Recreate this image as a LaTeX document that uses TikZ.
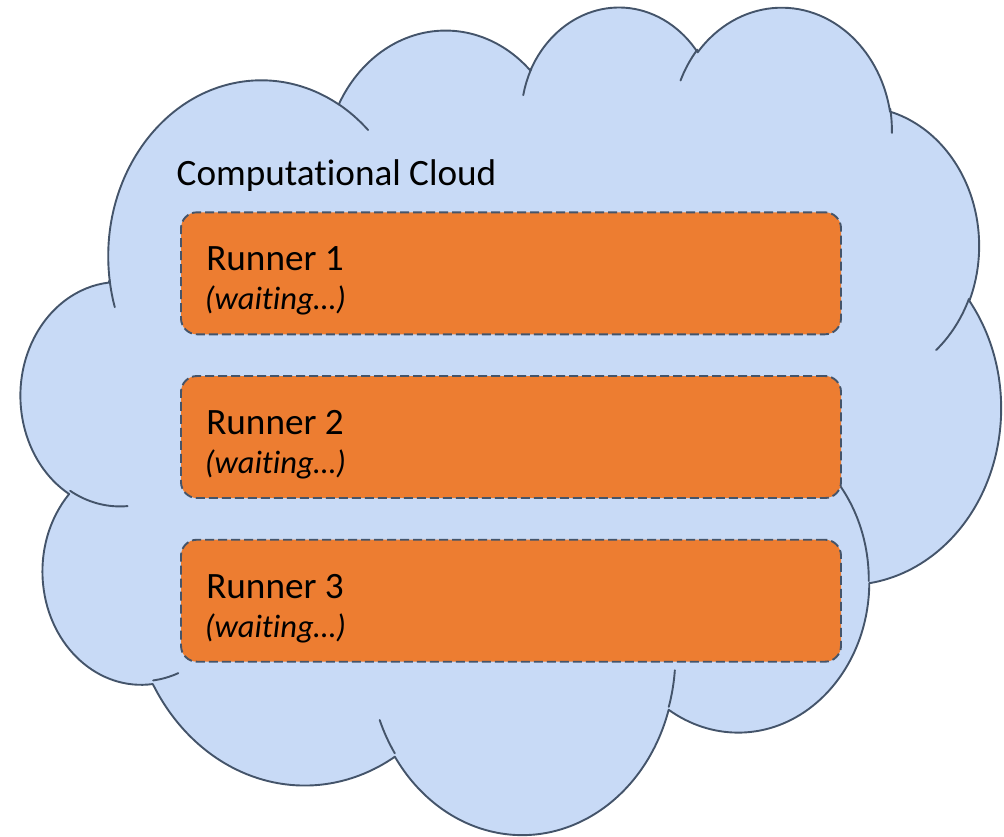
\documentclass[tikz,border=0pt]{standalone}
\usepackage{fontspec}
\setmainfont{Carlito}[Ligatures=NoCommon]
\definecolor{skyfill}{HTML}{C8DAF6}
\definecolor{slate}{HTML}{44546A}
\definecolor{runnerorange}{HTML}{ED7D31}

% One lobe of the cloud outline: style name, x radius, y radius,
% start angle and sweep, the angles measured as rays from the centre.
\newcommand\cloudlobe[5]{%
  \pgfmathsetmacro\lobeS{atan2(#2*sin(#4),#3*cos(#4))}%
  \pgfmathsetmacro\lobeE{atan2(#2*sin(#4+#5),#3*cos(#4+#5))}%
  \pgfmathsetmacro\lobeD{Mod(\lobeE-\lobeS,360)}%
  \edef\lobeTmp{\noexpand\tikzset{#1/.style={x radius=#2,y radius=#3,start angle=\lobeS,delta angle=\lobeD}}}%
  \lobeTmp}

% outer outline
\cloudlobe{lobeA}{6753}{9190}{-190.487}{123.781}
\cloudlobe{lobeB}{5333}{7267}{-144.102}{89.945}
\cloudlobe{lobeC}{4365}{5945}{-145.808}{99.723}
\cloudlobe{lobeD}{4857}{6595}{-130.986}{117.242}
\cloudlobe{lobeE}{5333}{7273}{-78.709}{109.027}
\cloudlobe{lobeF}{6775}{9220}{-46.267}{130.269}
\cloudlobe{lobeG}{5785}{7867}{0.625}{114.033}
\cloudlobe{lobeH}{6752}{9215}{22.452}{115.173}
\cloudlobe{lobeI}{7720}{10543}{66.243}{75.711}
\cloudlobe{lobeJ}{4360}{5918}{-274.942}{146.736}
\cloudlobe{lobeK}{4345}{5945}{-246.829}{152.519}
% inner seams between the lobes
\cloudlobe{seamA}{4345}{5945}{86.742}{26.430}
\cloudlobe{seamB}{4360}{5918}{73.611}{11.447}
\cloudlobe{seamC}{6752}{9215}{137.624}{14.081}
\cloudlobe{seamD}{6752}{9215}{6.453}{15.998}
\cloudlobe{seamE}{5785}{7867}{-70.292}{70.917}
\cloudlobe{seamF}{5333}{7273}{30.318}{27.752}
\cloudlobe{seamG}{4857}{6595}{-13.744}{14.859}
\cloudlobe{seamH}{4857}{6595}{-149.181}{18.195}
\cloudlobe{seamI}{4365}{5945}{-163.494}{17.686}
\cloudlobe{seamJ}{6753}{9190}{-66.707}{12.319}
\cloudlobe{seamK}{6753}{9190}{157.654}{11.858}

\begin{document}
\begin{tikzpicture}[x=1pt,y=-1pt,
  cloudbody/.style={fill=skyfill,draw=slate,line width=1.9pt,line join=round},
  cloudseam/.style={draw=slate,line width=1.9pt,line cap=round},
  runnerbox/.style={draw=slate,fill=runnerorange,line width=1.9pt,
    dash pattern=on 9pt off 4pt,rounded corners=16pt,
    minimum width=660pt,minimum height=122pt,inner sep=0pt},
  title/.style={anchor=base west,inner sep=0pt,font=\fontsize{37.2}{44}\selectfont},
  runnername/.style={anchor=base west,inner sep=0pt,font=\fontsize{37.2}{44}\selectfont},
  runnerstate/.style={anchor=base west,inner sep=0pt,font=\fontsize{32.5}{39}\selectfont\itshape}]
\useasboundingbox (0,0) rectangle (1004,836);

% the cloud
\begin{scope}[shift={(21.2,4.8)},x=0.022672pt,y=-0.01915pt]
  \path[cloudbody] (3900,14370) arc[lobeA] arc[lobeB] arc[lobeC] arc[lobeD]
    arc[lobeE] arc[lobeF] arc[lobeG] arc[lobeH] arc[lobeI] arc[lobeJ]
    arc[lobeK] -- cycle;
  \draw[cloudseam]
    (4693,26177) arc[seamA]
    (6928,34899) arc[seamB]
    (16478,39090) arc[seamC]
    (28827,34751) arc[seamD]
    (34129,22954) arc[seamE]
    (41798,15354) arc[seamF]
    (38324,5426) arc[seamG]
    (29078,3952) arc[seamH]
    (22141,4720) arc[seamI]
    (14000,5192) arc[seamJ]
    (4127,15789) arc[seamK];
\end{scope}

\node[title] (cloudtitle) at (176.5,185) {Computational Cloud};

% the runners
\node[runnerbox] (r1) at (511,273.3) {};
\node[runnerbox] (r2) at (511,437) {};
\node[runnerbox] (r3) at (511,600.7) {};

\node[runnername] (r1name) at ([shift={(26,59.5)}]r1.north west) {Runner 1};
\node[runnerstate] (r1state) at ([shift={(24.5,98.5)}]r1.north west) {(waiting…)};
\node[runnername] (r2name) at ([shift={(26,59.5)}]r2.north west) {Runner 2};
\node[runnerstate] (r2state) at ([shift={(24.5,98.5)}]r2.north west) {(waiting…)};
\node[runnername] (r3name) at ([shift={(26,59.5)}]r3.north west) {Runner 3};
\node[runnerstate] (r3state) at ([shift={(24.5,98.5)}]r3.north west) {(waiting…)};
\end{tikzpicture}
\end{document}
